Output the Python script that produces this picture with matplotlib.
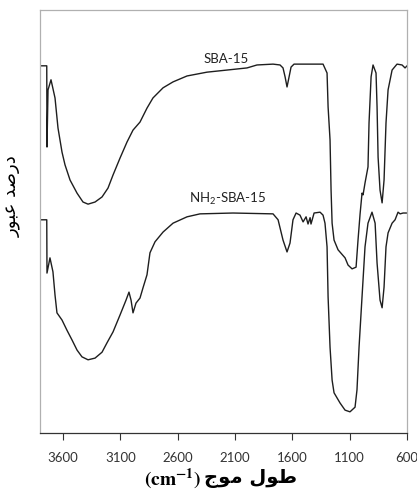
import matplotlib
matplotlib.use('Agg')
import matplotlib.pyplot as plt
import numpy as np

''' FTIR spectra of SBA-15 and NH2-SBA-15 (values read off the picture) '''

sba_wn = [3790, 3750, 3741, 3739, 3730, 3704, 3669, 3643, 3608, 3582, 3538, 3477,
          3425, 3381, 3320, 3259, 3207, 3163, 3102, 3041, 2989, 2928, 2867, 2815,
          2727, 2640, 2518, 2344, 2169, 1995, 1908, 1768, 1707, 1681, 1663, 1646,
          1628, 1611, 1585, 1332, 1297, 1288, 1271, 1262, 1253, 1236, 1201, 1140,
          1114, 1079, 1044, 1027, 1009, 992, 983, 966, 940, 931, 913, 896, 870,
          861, 852, 835, 817, 800, 783, 765, 730, 687, 643, 617, 599]
sba_t = [86.8, 86.8, 86.8, 67.6, 81.1, 83.5, 79.2, 72.1, 66.4, 63.4, 59.8, 56.7,
         54.6, 54.1, 54.6, 55.8, 57.9, 61.0, 65.0, 68.8, 71.6, 73.5, 76.8, 79.2,
         81.6, 83.0, 84.4, 85.3, 85.8, 86.3, 87.0, 87.2, 87.0, 86.3, 84.2, 81.8,
         84.2, 86.5, 87.2, 87.2, 85.1, 77.1, 69.3, 57.4, 49.6, 45.6, 43.3, 41.4,
         39.7, 38.8, 39.2, 45.6, 51.8, 56.7, 56.3, 59.1, 62.9, 73.3, 84.2, 87.0,
         85.1, 77.1, 65.2, 57.4, 54.4, 59.8, 73.3, 81.1, 85.8, 87.2, 87.0, 86.3,
         86.8]

nh2_wn = [3790, 3750, 3741, 3739, 3713, 3687, 3669, 3652, 3608, 3565, 3521, 3477,
          3434, 3381, 3320, 3259, 3216, 3163, 3102, 3050, 3024, 3006, 2989, 2963,
          2928, 2902, 2867, 2841, 2797, 2727, 2640, 2518, 2405, 2117, 1768, 1724,
          1681, 1646, 1620, 1594, 1567, 1533, 1506, 1480, 1463, 1445, 1437, 1410,
          1358, 1332, 1315, 1297, 1288, 1271, 1253, 1236, 1184, 1140, 1097, 1053,
          1036, 1018, 992, 966, 940, 905, 878, 861, 835, 817, 800, 783, 765, 730,
          704, 678, 660, 634, 599]
nh2_t = [50.4, 50.4, 50.4, 37.8, 41.4, 38.1, 32.6, 28.4, 26.7, 24.3, 22.0, 19.6,
         18.0, 17.3, 17.7, 19.1, 21.3, 23.9, 27.9, 31.4, 33.3, 31.4, 28.4, 30.7,
         31.9, 34.3, 37.4, 42.6, 45.2, 47.5, 49.6, 51.1, 51.8, 52.0, 51.8, 50.4,
         45.6, 42.8, 44.9, 50.4, 52.0, 51.5, 49.9, 51.1, 49.4, 50.9, 49.4, 52.0,
         52.2, 51.5, 49.6, 44.0, 32.2, 20.3, 12.5, 9.5, 7.1, 5.4, 5.0, 6.1,
         10.2, 20.3, 32.2, 44.0, 49.6, 52.2, 49.6, 40.2, 31.4, 29.6, 34.5, 44.0,
         47.3, 49.6, 50.4, 52.2, 51.8, 52.0, 52.0]

x_ticks = [3600, 3100, 2600, 2100, 1600, 1100, 600]

# Arabic written in presentation forms, visual order (matplotlib does no shaping)
y_title = '\uFEAD\uFEEE\uFE92\uFECB \uFEAA\uFEBB\uFEAD\uFEA9'   # درصد عبور
x_title = '\uFE9D\uFEEE\uFEE3 \uFEDD\uFEEE\uFEC3'               # طول موج

plt.rcParams['font.family'] = ['Lato', 'DejaVu Sans']

fig = plt.figure(figsize=(4.17, 4.99), dpi=100)
ax = fig.add_axes([0.0959, 0.1323, 0.8801, 0.8477])

ax.plot(sba_wn, sba_t, color='#1e1e1e', lw=1.0)
ax.plot(nh2_wn, nh2_t, color='#1e1e1e', lw=1.0)

ax.text(2178, 87.4, 'SBA-15', ha='center', va='baseline', fontsize=9.5, color='#222222')
ax.text(2160, 54.3, r'NH$\mathregular{_2}$-SBA-15', ha='center', va='baseline',
        fontsize=9.5, color='#222222')

ax.set_xlim(3800, 600)
ax.set_ylim(0, 100)
ax.set_xticks(x_ticks)
ax.set_xticklabels([str(t) for t in x_ticks])
ax.set_yticks([])
ax.tick_params(axis='x', direction='out', length=5, width=0.8, pad=9,
               labelsize=9.5, colors='#333333')

for side in ['top', 'right', 'left']:
    ax.spines[side].set_color('#b0b0b0')
    ax.spines[side].set_linewidth(0.9)
ax.spines['bottom'].set_color('#333333')
ax.spines['bottom'].set_linewidth(0.9)

fig.text(0.031, 0.607, y_title, rotation=90, ha='center', va='center',
         fontsize=13, family=['DejaVu Sans'])

fig.text(0.482, 0.041, r'$\mathbf{(cm^{-1})}$', ha='right', va='center',
         fontsize=14, math_fontfamily='stix')
fig.text(0.490, 0.041, x_title, ha='left', va='center', fontsize=14,
         fontweight='bold', family=['DejaVu Sans'])

plt.savefig('out.png', dpi=100)
